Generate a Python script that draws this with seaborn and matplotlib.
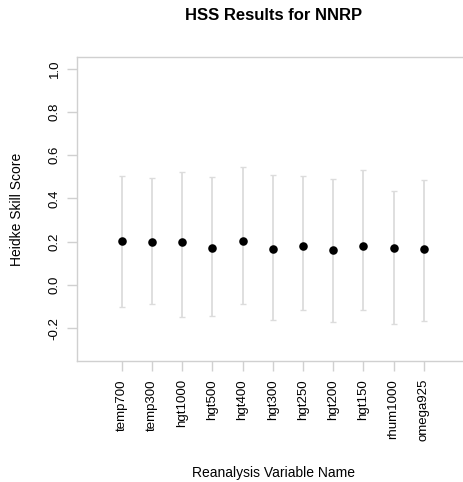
import numpy as np
import pandas as pd
import matplotlib
matplotlib.use("Agg")
import matplotlib.pyplot as plt
import seaborn as sns

variables = ["temp700", "temp300", "hgt1000", "hgt500", "hgt400", "hgt300",
             "hgt250", "hgt200", "hgt150", "rhum1000", "omega925"]
hss = [0.202, 0.200, 0.196, 0.172, 0.201, 0.165, 0.178, 0.162, 0.181, 0.172, 0.168]
upper = [0.503, 0.494, 0.520, 0.501, 0.546, 0.506, 0.503, 0.489, 0.531, 0.435, 0.483]
lower = [-0.102, -0.088, -0.148, -0.142, -0.088, -0.164, -0.116, -0.172, -0.116, -0.179, -0.167]
y_ticks = [-0.2, 0.0, 0.2, 0.4, 0.6, 0.8, 1.0]

df = pd.DataFrame({"var": variables, "hss": hss, "upper": upper, "lower": lower})

sns.set_style("white")
plt.rcParams["font.family"] = ["Liberation Sans", "DejaVu Sans"]
plt.rcParams["text.color"] = "black"
plt.rcParams["axes.labelcolor"] = "black"

fig = plt.figure(figsize=(4.63, 4.82), dpi=100)
ax = fig.add_axes([0.167, 0.251, 0.846, 0.630])

pos = np.arange(len(df))
ax.errorbar(pos, df["hss"],
            yerr=[df["hss"] - df["lower"], df["upper"] - df["hss"]],
            fmt="none", ecolor="#dcdcdc", elinewidth=1.3, capsize=2, capthick=1.0, zorder=1)
sns.scatterplot(data=df, x="var", y="hss", color="black", s=38, edgecolor="black",
                linewidth=0, ax=ax, zorder=2)

ax.set_xlim(-1.47, 11.5)
ax.set_ylim(-0.352, 1.052)
ax.set_yticks(y_ticks)
ax.set_yticklabels(["-0.2", "0.0", "0.2", "0.4", "0.6", "0.8", "1.0"], rotation=90, va="center")
ax.set_xticks(pos)
ax.set_xticklabels(variables, rotation=90)

for s in ["left", "bottom", "top"]:
    ax.spines[s].set_color("#d0d0d0")
    ax.spines[s].set_linewidth(1.0)
ax.spines["right"].set_visible(False)
ax.tick_params(axis="both", which="major", length=7, width=1.0, color="#d0d0d0",
               labelsize=9.5, labelcolor="black", direction="out", pad=3,
               left=True, bottom=True)
ax.tick_params(axis="x", pad=6)
ax.tick_params(axis="y", pad=5)

ax.set_xlabel("Reanalysis Variable Name", fontsize=10, labelpad=18)
ax.set_ylabel("Heidke Skill Score", fontsize=10, labelpad=18)
fig.text(0.59, 0.968, "HSS Results for NNRP", fontsize=12, fontweight="bold",
         ha="center", va="center")

fig.savefig("out.png", dpi=100)
